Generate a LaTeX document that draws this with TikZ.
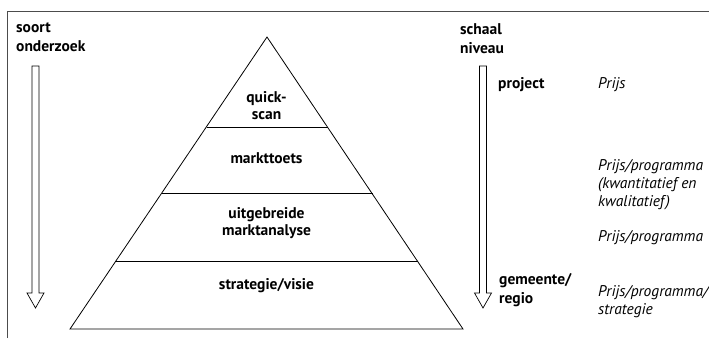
\documentclass[tikz,border=0pt]{standalone}
\usepackage{fontspec}
\setmainfont{PT Sans}
\begin{document}
\begin{tikzpicture}[x=1pt,y=-1pt,
  lbl/.style={font=\fontsize{15.5}{19}\selectfont\bfseries, align=left, anchor=base west, inner sep=0pt},
  lvl/.style={font=\fontsize{15.5}{16.5}\selectfont\bfseries, align=center, anchor=base, inner sep=0pt},
  note/.style={font=\fontsize{15.5}{18}\selectfont\itshape, align=left, anchor=base west, inner sep=0pt},
  hollowarrow/.style={draw=black, fill=white, line width=0.7pt, line join=miter},
  pyr/.style={draw=black, line width=0.8pt},
  frame/.style={draw=black!70, line width=1pt}]
\useasboundingbox (0,0) rectangle (709,338);
% frame
\draw[frame] (7,338) -- (7,11) -- (709,11);
% pyramid
\coordinate (apex) at (267,37);
\coordinate (bl) at (70,329);
\coordinate (br) at (463,329);
\draw[pyr] (apex) -- (br) -- (bl) -- cycle;
\draw[pyr] (206.5,127) -- (327.5,127);
\draw[pyr] (161.5,193) -- (372.5,193);
\draw[pyr] (116,261) -- (418,261);
\node[lvl] (qs) at (266.5,119) {quick-\\scan};
\node[lvl] (mt) at (266.5,163) {markttoets};
\node[lvl] (uma) at (266.5,235) {uitgebreide\\marktanalyse};
\node[lvl] (sv) at (266.5,289) {strategie/visie};
% left arrow
\draw[hollowarrow] (32,66) -- (39,66) -- (39,293) -- (44,293) -- (35.5,308) -- (27,293) -- (32,293) -- cycle;
\node[lbl] (so) at (16,51) {soort\\onderzoek};
% right arrow
\draw[hollowarrow] (479.5,66) -- (486.5,66) -- (486.5,293) -- (491.5,293) -- (483,308) -- (474.5,293) -- (479.5,293) -- cycle;
\node[lbl] (sn) at (460,53) {schaal\\niveau};
\node[lbl] (pr) at (498,88) {project};
\node[lbl] (gr) at (499,303) {gemeente/\\regio};
% notes
\node[note] (n1) at (598,88) {Prijs};
\node[note] (n2) at (598,206) {Prijs/programma\\(kwantitatief en\\kwalitatief)};
\node[note] (n3) at (598,241) {Prijs/programma};
\node[note] (n4) at (598,314) {Prijs/programma/\\strategie};
\end{tikzpicture}
\end{document}
